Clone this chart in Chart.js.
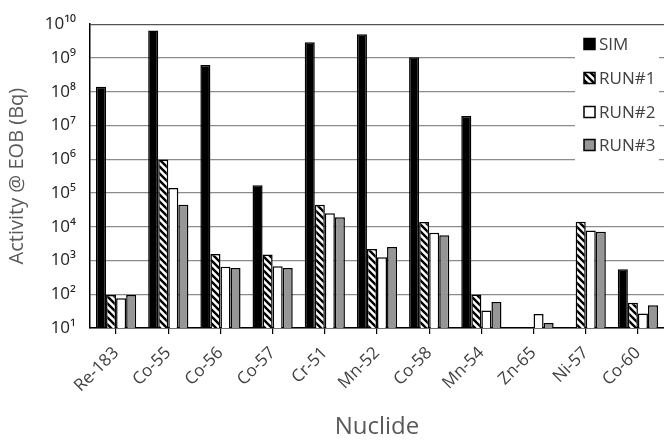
<!DOCTYPE html>
<html>
<head>
<meta charset="utf-8">
<script src="https://cdn.jsdelivr.net/npm/chart.js@4"></script>
<style>
  html, body { margin: 0; padding: 0; background: #fff; }
  #wrap { width: 664px; height: 440px; }
</style>
</head>
<body>
<div id="wrap"><canvas id="chart" width="664" height="440"></canvas></div>
<script>
const nuclides = ['Re-183','Co-55','Co-56','Co-57','Cr-51','Mn-52','Co-58','Mn-54','Zn-65','Ni-57','Co-60'];
const sim  = [1.4e8, 6.5e9, 6.2e8, 1.7e5, 2.9e9, 5.0e9, 1.05e9, 1.9e7, null, null, 550];
const run1 = [95, 9.8e5, 1550, 1500, 4.5e4, 2200, 1.37e4, 98, null, 1.4e4, 56];
const run2 = [76, 1.4e5, 650, 680, 2.5e4, 1250, 6600, 33, 26, 7800, 27];
const run3 = [95, 4.5e4, 600, 600, 1.9e4, 2500, 5600, 59, 14, 7100, 47];
const yTicks = [1e1, 1e2, 1e3, 1e4, 1e5, 1e6, 1e7, 1e8, 1e9, 1e10];

const FONT = '"Open Sans", "Noto Sans", sans-serif';
const sup = { '0':'⁰','1':'¹','2':'²','3':'³','4':'⁴','5':'⁵','6':'⁶','7':'⁷','8':'⁸','9':'⁹' };

// diagonal hatch for RUN#1
function hatch() {
  const c = document.createElement('canvas');
  c.width = 7; c.height = 7;
  const g = c.getContext('2d');
  g.fillStyle = '#fff'; g.fillRect(0, 0, 7, 7);
  g.strokeStyle = '#000'; g.lineWidth = 2.4;
  g.beginPath();
  g.moveTo(-1, -1); g.lineTo(8, 8);
  g.moveTo(-1, 6);  g.lineTo(1, 8);
  g.moveTo(6, -1);  g.lineTo(8, 1);
  g.stroke();
  return g.createPattern(c, 'repeat');
}

const ctx = document.getElementById('chart').getContext('2d');
const hatchFill = hatch();

// legend drawn inside the plot, top right
const insideLegend = {
  id: 'insideLegend',
  afterDraw(chart) {
    const c = chart.ctx;
    c.save();
    c.fillStyle = '#fff';
    c.fillRect(575, 28, 84, 134);
    const rows = [44, 78, 112, 145];
    c.font = '17px ' + FONT;
    c.textBaseline = 'middle';
    chart.data.datasets.forEach((ds, i) => {
      const y = rows[i];
      c.fillStyle = ds.backgroundColor;
      c.fillRect(584, y - 5.5, 11, 11);
      c.strokeStyle = '#000';
      c.lineWidth = 1.5;
      c.strokeRect(584, y - 5.5, 11, 11);
      c.fillStyle = '#404040';
      c.fillText(ds.label, 599, y + 1);
    });
    c.restore();
  }
};

const common = { borderColor: '#000', borderWidth: 1.5, categoryPercentage: 0.77, barPercentage: 1 };

new Chart(ctx, {
  type: 'bar',
  data: {
    labels: nuclides,
    datasets: [
      { label: 'SIM',   data: sim,  backgroundColor: '#000', ...common },
      { label: 'RUN#1', data: run1, backgroundColor: hatchFill, ...common },
      { label: 'RUN#2', data: run2, backgroundColor: '#fff', ...common },
      { label: 'RUN#3', data: run3, backgroundColor: '#969696', ...common },
    ],
  },
  options: {
    responsive: false,
    animation: false,
    layout: { padding: { top: 19, right: 0, left: 0, bottom: 0 } },
    plugins: { legend: { display: false }, tooltip: { enabled: false } },
    scales: {
      x: {
        afterFit: s => { s.height = 112; },
        grid: { display: true, drawOnChartArea: false, drawTicks: true, tickLength: 6, offset: false, color: '#000', lineWidth: 1.2 },
        border: { display: true, color: '#000', width: 1.5 },
        ticks: { minRotation: 45, maxRotation: 45, padding: 9, color: '#404040', font: { family: FONT, size: 17 } },
        title: { display: true, text: 'Nuclide', color: '#595959', font: { family: FONT, size: 24 }, padding: { top: 0, bottom: -2 } },
      },
      y: {
        type: 'logarithmic',
        min: 10, max: 1e10,
        afterFit: s => { s.width = 90; },
        afterBuildTicks: s => { s.ticks = yTicks.map(v => ({ value: v })); },
        grid: { color: c => (c.tick && c.tick.value === 1e10 ? '#555' : '#8c8c8c'), lineWidth: 1.3, drawTicks: false },
        border: { display: true, color: '#000', width: 1.5 },
        ticks: {
          padding: 14,
          color: '#222',
          font: { family: FONT, size: 17 },
          callback: v => '10' + String(Math.round(Math.log10(v))).split('').map(d => sup[d]).join(''),
        },
        title: { display: true, text: 'Activity @ EOB (Bq)', color: '#595959', font: { family: FONT, size: 20 }, padding: { top: 5, bottom: 0 } },
      },
    },
  },
  plugins: [insideLegend],
});
</script>
</body>
</html>
